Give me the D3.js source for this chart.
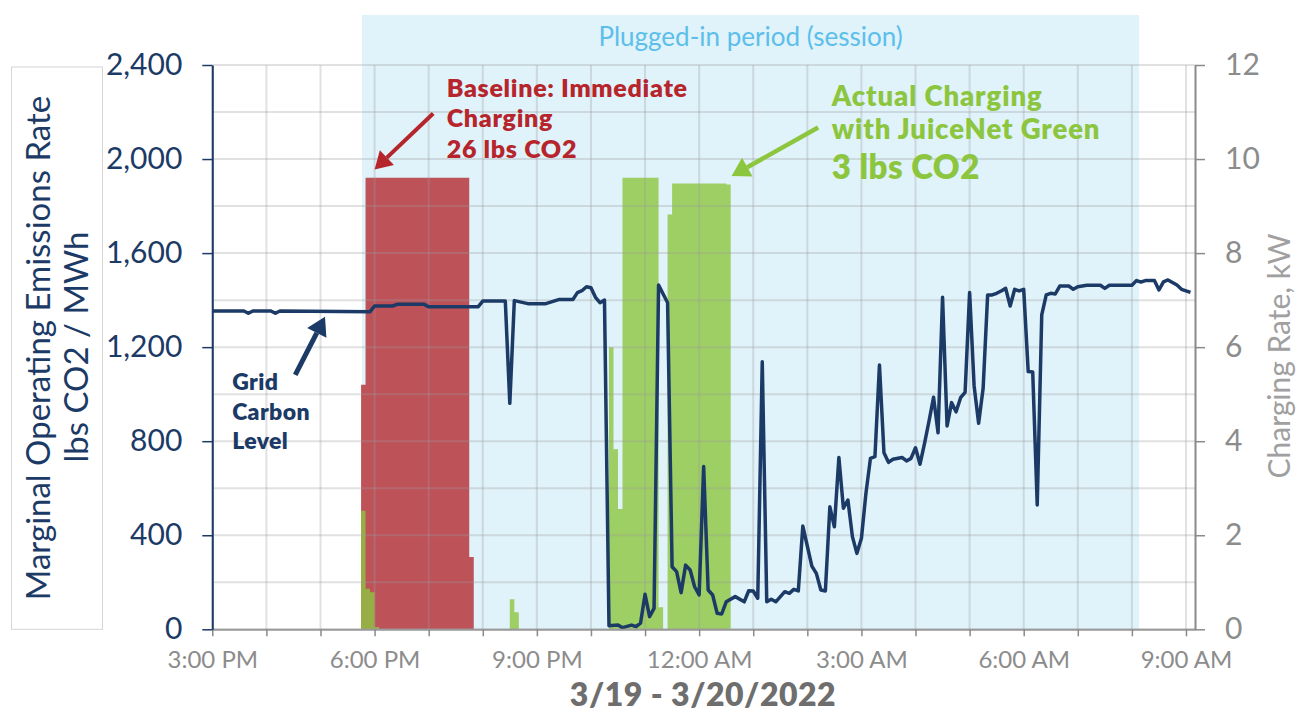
<!DOCTYPE html>
<html>
<head>
<meta charset="utf-8">
<script src="https://cdn.jsdelivr.net/npm/d3@7"></script>
<style>
  body { margin: 0; background: #fff; }
  text { font-family: Lato, "Open Sans", sans-serif; }
</style>
</head>
<body>
<div id="chart"></div>
<script>
// grid carbon level, lbs CO2 / MWh (3/19 15:00 -> 3/20 09:05)
const carbonTimes = [
  "15:00","15:35","15:40","15:45","16:05","16:10","16:15","17:55","18:00","18:20",
  "18:25","18:55","19:00","19:55","20:00","20:25","20:30","20:35","20:50","21:10",
  "21:25","21:40","21:45","21:50","21:55","22:00","22:05","22:10","22:15","22:20",
  "22:30","22:35","22:45","22:50","22:55","23:00","23:05","23:10","23:15","23:25",
  "23:30","23:35","23:40","23:45","23:50","23:55","00:00","00:05","00:10","00:15",
  "00:20","00:25","00:30","00:40","00:50","00:55","01:00","01:05","01:10","01:15",
  "01:20","01:25","01:35","01:40","01:45","01:50","01:55","02:05","02:10","02:15",
  "02:20","02:25","02:30","02:35","02:40","02:45","02:50","02:55","03:00","03:05",
  "03:10","03:15","03:20","03:25","03:30","03:35","03:45","03:50","03:55","04:00",
  "04:05","04:10","04:15","04:20","04:25","04:30","04:35","04:40","04:45","04:50",
  "04:55","05:00","05:05","05:10","05:15","05:20","05:25","05:30","05:35","05:40",
  "05:45","05:50","05:55","06:00","06:05","06:10","06:15","06:20","06:25","06:30",
  "06:35","06:40","06:50","06:55","07:00","07:10","07:25","07:30","07:35","08:00",
  "08:05","08:10","08:15","08:25","08:30","08:35","08:40","08:50","08:55","09:05"
]
const carbonValues = [
  1354,1354,1344,1354,1354,1344,1354,1351,1375,1375,
  1382,1382,1372,1372,1396,1396,961,1398,1385,1385,
  1403,1403,1432,1440,1457,1453,1412,1389,1400,15,
  18,7,18,11,26,149,54,89,1464,1389,
  266,245,156,273,252,181,146,692,167,146,
  68,65,117,139,117,164,163,132,1138,117,
  128,117,160,153,170,163,439,269,238,167,
  163,521,436,731,515,550,394,323,387,578,
  727,734,1124,751,710,723,731,716,727,772,
  702,791,886,987,836,1412,865,964,925,985,
  1008,1432,1035,876,1025,1422,1422,1429,1439,1450,
  1375,1446,1439,1446,1096,1094,529,1337,1422,1429,
  1426,1460,1460,1446,1457,1463,1463,1450,1463,1463,
  1483,1477,1483,1483,1443,1478,1486,1464,1446,1433
]

// charging rate, kW (step values, each holds until the next time)
const baselineTimes = ["17:45", "17:50", "19:45", "19:50"]
const baselineKw = [5.2, 9.6, 1.54, 0]

const actualTimes = ["17:45","17:50","17:55","18:00","18:05","20:30","20:35","20:40",
  "22:20","22:25","22:30","22:35","23:15","23:20","23:25","23:30","00:30","00:35"]
const actualKw = [2.52, 0.86, 0.79, 0.05, 0, 0.64, 0.36, 0,
  6.0, 3.83, 2.56, 9.6, 0.47, 0, 8.82, 9.48, 9.46, 0]

const sessionTimes = ["17:46", "08:08"]
const domainTimes = ["15:00", "09:10"]
const emissionTicks = [0, 400, 800, 1200, 1600, 2000, 2400]
const kwTicks = [0, 2, 4, 6, 8, 10, 12]

const width = 1301, height = 712
const plotLeft = 212.3, plotRight = 1195, plotTop = 65, plotBottom = 629.3

const navy = "#1c3a66", gray = "#8c8c8c"
const red = "#b5252b", green = "#8cc63f"

const parseT = s => {
    const [h, m] = s.split(":").map(Number)
    return new Date(2022, 2, h >= 12 ? 19 : 20, h, m)
}

const svg = d3.select("#chart")
    .append("svg")
    .attr("width", width)
    .attr("height", height)

const x = d3.scaleTime()
    .domain(domainTimes.map(parseT))
    .range([plotLeft, plotRight])
const yL = d3.scaleLinear().domain([0, 2400]).range([plotBottom, plotTop])
const yR = d3.scaleLinear().domain([0, 12]).range([plotBottom, plotTop])

// box behind the left axis title
svg.append("rect")
    .attr("x", 11.5).attr("y", 67)
    .attr("width", 91).attr("height", plotBottom - 67)
    .attr("fill", "#fff")
    .attr("stroke", "#d6d6d6")

// plugged-in band
const s0 = x(parseT(sessionTimes[0])), s1 = x(parseT(sessionTimes[1]))
svg.append("rect")
    .attr("x", s0).attr("y", 15)
    .attr("width", s1 - s0).attr("height", plotBottom - 15)
    .attr("fill", "#e0f2fa")
svg.append("text")
    .attr("x", (s0 + s1) / 2).attr("y", 46)
    .attr("text-anchor", "middle")
    .style("font-size", "26px")
    .attr("fill", "#5bbfea")
    .text("Plugged-in period (session)")

// charging bars
const toSteps = (times, vals) => times.map((t, i) => ({t: parseT(t), v: vals[i]}))
const stepArea = d3.area()
    .curve(d3.curveStepAfter)
    .x(d => x(d.t))
    .y0(yR(0))
    .y1(d => yR(d.v))

svg.append("path")
    .datum(toSteps(baselineTimes, baselineKw))
    .attr("d", stepArea)
    .attr("fill", red)
    .attr("fill-opacity", 0.78)

svg.append("path")
    .datum(toSteps(actualTimes, actualKw))
    .attr("d", stepArea)
    .attr("fill", green)
    .attr("fill-opacity", 0.8)

// gridlines
const grid = svg.append("g")
    .attr("stroke", "#9a9a9a")
    .attr("stroke-opacity", 0.3)
    .attr("stroke-width", 2)
grid.selectAll(".hg")
    .data(d3.range(0, 2401, 200))
    .join("line")
    .attr("x1", plotLeft).attr("x2", plotRight)
    .attr("y1", d => yL(d)).attr("y2", d => yL(d))
grid.selectAll(".vg")
    .data(x.ticks(d3.timeHour.every(1)))
    .join("line")
    .attr("x1", d => x(d)).attr("x2", d => x(d))
    .attr("y1", plotTop).attr("y2", plotBottom)

// grid carbon line
const carbon = carbonTimes.map((t, i) => ({t: parseT(t), v: carbonValues[i]}))
svg.append("path")
    .datum(carbon)
    .attr("d", d3.line().x(d => x(d.t)).y(d => yL(d.v)))
    .attr("fill", "none")
    .attr("stroke", navy)
    .attr("stroke-width", 3.5)
    .attr("stroke-linejoin", "round")

// axes
const fmtTime = d3.timeFormat("%-I:%M %p")
const xAxis = svg.append("g")
    .attr("transform", `translate(0,${plotBottom})`)
    .call(d3.axisBottom(x)
        .ticks(d3.timeHour.every(1))
        .tickSize(7)
        .tickSizeOuter(0)
        .tickPadding(15)
        .tickFormat(d => d.getHours() % 3 === 0 ? fmtTime(d) : ""))
xAxis.select(".domain").attr("stroke", "#9a9a9a").attr("stroke-width", 2)
xAxis.selectAll(".tick line").attr("stroke", "#8a8a8a").attr("stroke-width", 1.5)
xAxis.selectAll("text")
    .style("font-size", "24px")
    .style("font-family", "Lato, sans-serif")
    .attr("fill", gray)

const leftAxis = svg.append("g")
    .attr("transform", `translate(${plotLeft},0)`)
    .call(d3.axisLeft(yL)
        .tickValues(emissionTicks)
        .tickSize(10)
        .tickSizeOuter(0)
        .tickPadding(20)
        .tickFormat(d3.format(",")))
leftAxis.select(".domain").attr("stroke", navy).attr("stroke-width", 2)
leftAxis.selectAll(".tick line").attr("stroke", navy).attr("stroke-width", 1.5)
leftAxis.selectAll("text")
    .style("font-size", "30px")
    .style("font-family", "Lato, sans-serif")
    .attr("fill", navy)

const rightAxis = svg.append("g")
    .attr("transform", `translate(${plotRight},0)`)
    .call(d3.axisRight(yR)
        .tickValues(kwTicks)
        .tickSize(10)
        .tickSizeOuter(0)
        .tickPadding(20))
rightAxis.select(".domain").attr("stroke", "#8a8a8a").attr("stroke-width", 2)
rightAxis.selectAll(".tick line").attr("stroke", "#8a8a8a").attr("stroke-width", 1.5)
rightAxis.selectAll("text")
    .style("font-size", "30px")
    .style("font-family", "Lato, sans-serif")
    .attr("fill", gray)

// axis titles
const leftTitle = svg.append("g").attr("fill", navy).style("font-size", "33px")
leftTitle.append("text")
    .attr("transform", "translate(50,348) rotate(-90)")
    .attr("text-anchor", "middle")
    .text("Marginal Operating Emissions Rate")
leftTitle.append("text")
    .attr("transform", "translate(88,347) rotate(-90)")
    .attr("text-anchor", "middle")
    .text("lbs CO2 / MWh")

svg.append("text")
    .attr("transform", "translate(1290,356) rotate(-90)")
    .attr("text-anchor", "middle")
    .style("font-size", "30px")
    .attr("fill", "#a0a0a0")
    .text("Charging Rate, kW")

svg.append("text")
    .attr("x", 703).attr("y", 706)
    .attr("text-anchor", "middle")
    .style("font-size", "32px")
    .style("font-weight", 800)
    .style("letter-spacing", "0.5px")
    .attr("fill", "#6e6e6e")
    .text("3/19 - 3/20/2022")

// annotations
function arrow(x1, y1, x2, y2, color, w, head) {
    const a = Math.atan2(y2 - y1, x2 - x1)
    const bx = x2 - head * Math.cos(a), by = y2 - head * Math.sin(a)
    const hw = head * 0.6
    svg.append("line")
        .attr("x1", x1).attr("y1", y1)
        .attr("x2", bx).attr("y2", by)
        .attr("stroke", color)
        .attr("stroke-width", w)
    svg.append("path")
        .attr("d", `M${x2},${y2}L${bx + hw * Math.sin(a)},${by - hw * Math.cos(a)}L${bx - hw * Math.sin(a)},${by + hw * Math.cos(a)}Z`)
        .attr("fill", color)
}

function label(lines, x0, y0, dy, color, size, spacing) {
    lines.forEach((l, i) => {
        svg.append("text")
            .attr("x", x0).attr("y", y0 + i * dy)
            .style("font-size", size + "px")
            .style("font-weight", 800)
            .style("letter-spacing", spacing + "px")
            .attr("fill", color)
            .text(l)
    })
}

const t = parseT
label(["Baseline: Immediate", "Charging", "26 lbs CO2"], x(t("19:20")), yR(11.33), 30.6, red, 25, 0.7)
arrow(x(t("19:05")), yR(10.97), x(t("18:00")), yR(9.78), red, 4, 17)

label(["Actual Charging", "with JuiceNet Green"], x(t("02:27")), yR(11.13), 33.3, green, 27.5, 0.9)
label(["3 lbs CO2"], x(t("02:27")), yR(9.57), 0, green, 33, 0.5)
arrow(x(t("02:12")), yR(10.67), x(t("00:36")), yR(9.64), green, 4.5, 18)

label(["Grid", "Carbon", "Level"], x(t("15:22")), yL(1018), 29.7, navy, 23, 0.4)
arrow(x(t("16:32")), yL(1082), x(t("17:05")), yL(1329), navy, 5, 18)
</script>
</body>
</html>
